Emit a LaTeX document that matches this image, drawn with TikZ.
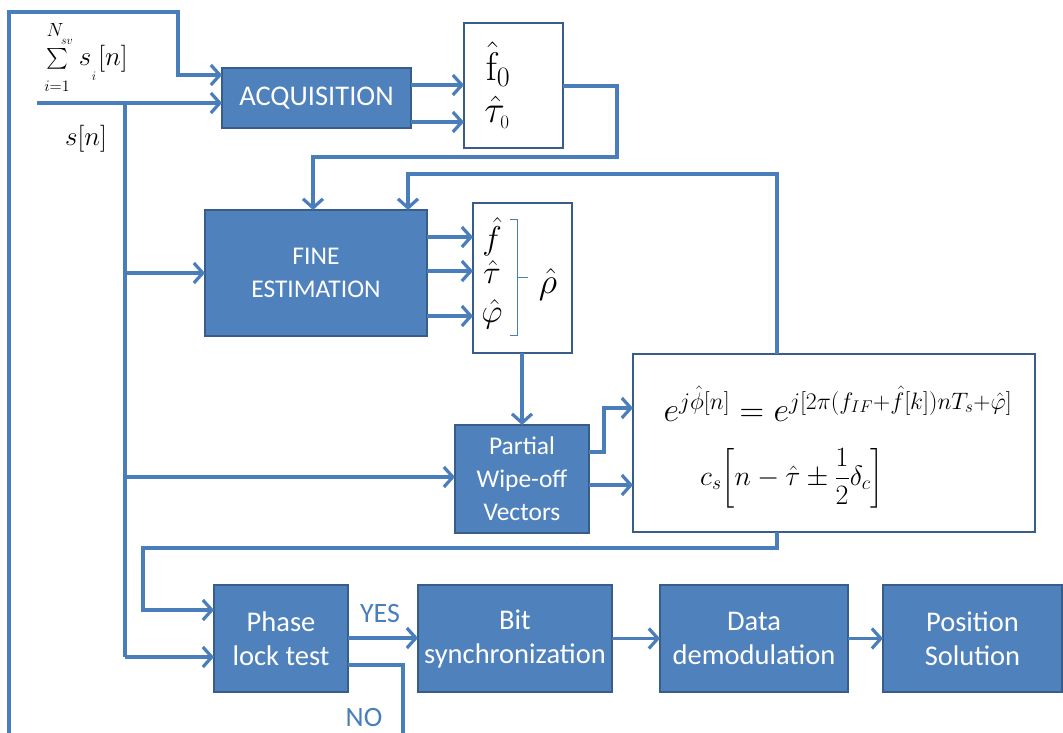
\RequirePackage{fix-cm}
\documentclass[tikz,border=0pt]{standalone}
\usepackage[no-math]{fontspec}
\usepackage{amsmath}
\newfontfamily\calibri{Carlito}
\usetikzlibrary{arrows.meta}
\definecolor{lc}{HTML}{4A7EBB}
\definecolor{bf}{HTML}{4F81BD}
\definecolor{bd}{HTML}{385D8A}
\tikzset{
 conn/.style={draw=lc, line width=3.2pt},
 arr/.style={conn, -{Straight Barb[length=9pt,width=20pt]}},
 bluebox/.style={draw=bd, fill=bf, line width=1.6pt, text=white, font=\calibri\fontsize{28.5}{34}\selectfont, align=center, inner sep=0pt, outer sep=0pt},
 midtext/.style={font=\calibri\fontsize{25.5}{33}\selectfont},
 wbox/.style={draw=bd, fill=white, line width=2pt, inner sep=0pt, outer sep=0pt},
 lbl/.style={inner sep=0pt, font=\fontsize{20}{24}\selectfont},
 yn/.style={inner sep=0pt, text=lc, font=\calibri\fontsize{28}{30}\selectfont},
}
\begin{document}
\begin{tikzpicture}[x=1pt,y=-1pt]
\useasboundingbox (0,0) rectangle (1063,733);
% boxes
\node[bluebox, minimum width=189pt, minimum height=60pt] (acq) at (316.5,98) {ACQUISITION};
\node[wbox, minimum width=99pt, minimum height=125pt] (f0) at (513.5,85.5) {};
\node[bluebox, midtext, minimum width=222pt, minimum height=126pt] (fine) at (316,273) {FINE\\ESTIMATION};
\node[wbox, minimum width=99pt, minimum height=150pt] (rho) at (522.5,278) {};
\node[bluebox, midtext, minimum width=134pt, minimum height=108pt] (pwo) at (522,479) {Partial\\Wipe-off\\Vectors};
\node[wbox, minimum width=402pt, minimum height=178pt] (form) at (834,443) {};
\node[bluebox, minimum width=134pt, minimum height=107pt] (plt) at (281,638.5) {Phase\\lock test};
\node[bluebox, minimum width=194pt, minimum height=107pt] (bit) at (515,638.5) {Bit\\synchronization};
\node[bluebox, minimum width=188pt, minimum height=107pt] (data) at (754,638.5) {Data\\demodulation};
\node[bluebox, minimum width=179pt, minimum height=107pt] (pos) at (972.5,638.5) {Position\\Solution};
% sum label
\node[lbl, font=\fontsize{19}{20}\selectfont] (sN) at (55,30) {$N$};
\node[lbl, font=\fontsize{12}{14}\selectfont] (ssv) at (67,42) {$sv$};
\node[lbl, font=\fontsize{21}{24}\selectfont] (ssig) at (57,59) {$\textstyle\sum$};
\node[lbl, font=\fontsize{16}{18}\selectfont] (si1) at (57,86) {$i{=}1$};
\node[lbl, font=\fontsize{27}{30}\selectfont] (ss) at (85,60) {$s$};
\node[lbl, font=\fontsize{13}{14}\selectfont] (ssi) at (94,76) {$i$};
\node[lbl, font=\fontsize{27}{30}\selectfont] (sbr) at (113,59) {$[n]$};
\node[lbl, font=\fontsize{27}{30}\selectfont] (sn) at (86,139) {$s[n]$};
% estimate texts
\node[lbl, font=\fontsize{40}{42}\selectfont] (tf0) at (498,64) {$\hat{\mathrm{f}}_0$};
\node[lbl, font=\fontsize{38}{40}\selectfont] (tt0) at (497,112) {$\hat{\tau}_{\scriptscriptstyle 0}$};
\node[lbl, font=\fontsize{33}{36}\selectfont] (tf) at (492,237) {$\hat{f}$};
\node[lbl, font=\fontsize{33}{36}\selectfont] (tt) at (492,272) {$\hat{\tau}$};
\node[lbl, font=\fontsize{33}{36}\selectfont] (tp) at (492,314) {$\hat{\varphi}$};
\node[lbl, font=\fontsize{36}{38}\selectfont] (trho) at (548,284) {$\hat{\rho}$};
\draw[lc, line width=1pt] (510,219) -- (517,219) -- (517,335) -- (510,335) (517,277) -- (528,277);
\node[lbl, font=\fontsize{34}{36}\selectfont] (eq1) at (838,404) {$e^{j\hat{\phi}[n]}=e^{j[2\pi(f_{IF}+\hat{f}[k])nT_s+\hat{\varphi}]}$};
\node[lbl, font=\fontsize{28}{30}\selectfont] (eq2) at (792,478) {$\displaystyle c_s\!\left[n-\hat{\tau}\pm\frac{1}{2}\delta_c\right]$};
\node[yn] (yes) at (380,614) {YES};
\node[yn] (no) at (364,718) {NO};
% coordinates
\coordinate (lb) at (9,733);
\coordinate (sin) at (37,103);
\coordinate (j) at (125,103);
\coordinate (nob) at (403,733);
% connectors
\draw[arr] (lb) -- (9,12) -- (178,12) -- (178,75) -- (acq.west |- 0,75);
\draw[arr] (sin) -- (acq.west |- sin);
\draw[conn] (j) -- (125,657);
\draw[arr] (125,273) -- (fine.west);
\draw[arr] (125,477) -- (pwo.west |- 0,477);
\draw[arr] (125,657) -- (plt.west |- 0,657);
\draw[arr] (acq.east |- 0,85) -- (f0.west |- 0,85);
\draw[arr] (acq.east |- 0,122) -- (f0.west |- 0,122);
\draw[arr] (f0.east |- 0,86) -- (617,86) -- (617,157) -- (313,157) -- (fine.north -| 313,0);
\draw[arr] (form.north -| 777,0) -- (777,174) -- (408,174) -- (fine.north -| 408,0);
\draw[arr] (fine.east |- 0,237) -- (rho.west |- 0,237);
\draw[arr] (fine.east |- 0,271) -- (rho.west |- 0,271);
\draw[arr] (fine.east |- 0,316) -- (rho.west |- 0,316);
\draw[arr] (rho.south -| pwo.north) -- (pwo.north);
\draw[arr] (pwo.east |- 0,452) -- (604,452) -- (604,408) -- (form.west |- 0,408);
\draw[arr] (pwo.east |- 0,485) -- (form.west |- 0,485);
\draw[arr] (form.south -| 777,0) -- (777,548) -- (143,548) -- (143,610) -- (plt.west |- 0,610);
\draw[arr] (plt.east |- 0,638) -- (bit.west |- 0,638);
\draw[conn] (plt.east |- 0,665) -- (403,665) -- (nob);
\draw[arr] (bit.east) -- (data.west);
\draw[arr] (data.east) -- (pos.west);
\end{tikzpicture}
\end{document}
